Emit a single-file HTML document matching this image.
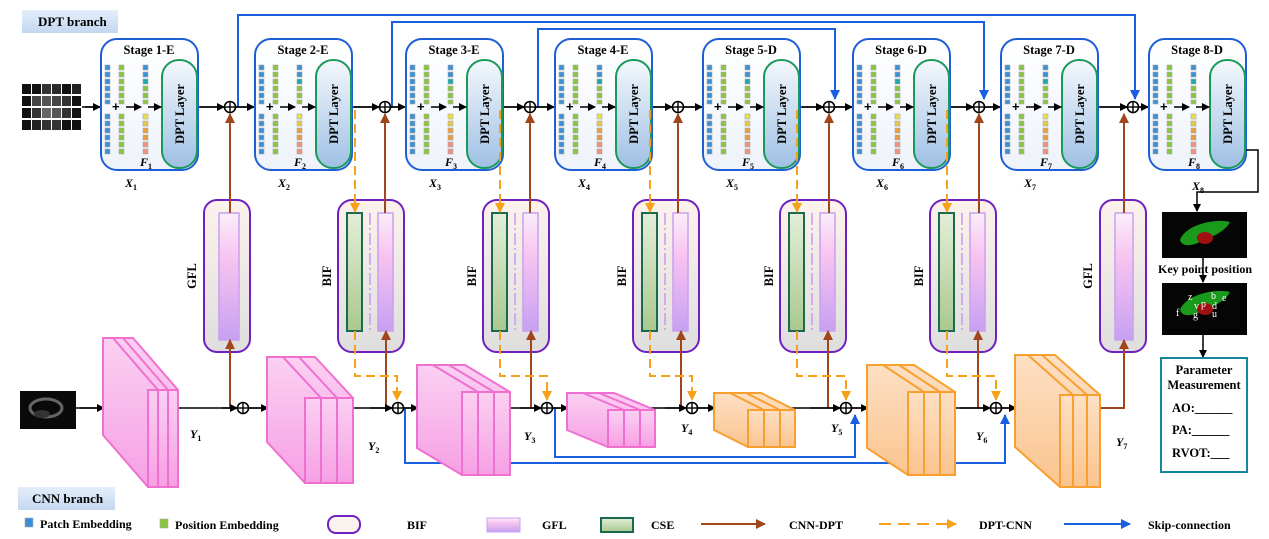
<!DOCTYPE html>
<html><head><meta charset="utf-8"><style>
html,body{margin:0;padding:0;background:#fff;}
svg{display:block;font-family:"Liberation Serif",serif;font-weight:bold;}
</style></head><body>
<svg width="1269" height="539" viewBox="0 0 1269 539" xmlns="http://www.w3.org/2000/svg">
<defs>
<marker id="ak" markerWidth="8" markerHeight="8" refX="7" refY="4" orient="auto" markerUnits="userSpaceOnUse"><path d="M0,0 L8,4 L0,8 z" fill="#000"/></marker>
<marker id="ab" markerWidth="10" markerHeight="10" refX="9" refY="5" orient="auto" markerUnits="userSpaceOnUse"><path d="M0,0 L10,5 L0,10 z" fill="#a0461a"/></marker>
<marker id="ao" markerWidth="10" markerHeight="10" refX="9" refY="5" orient="auto" markerUnits="userSpaceOnUse"><path d="M0,0 L10,5 L0,10 z" fill="#f7a01a"/></marker>
<marker id="al" markerWidth="10" markerHeight="10" refX="9" refY="5" orient="auto" markerUnits="userSpaceOnUse"><path d="M0,0 L10,5 L0,10 z" fill="#1a5fe0"/></marker>
<linearGradient id="gpill" x1="0" y1="0" x2="0" y2="1"><stop offset="0" stop-color="#f4f8fc"/><stop offset="1" stop-color="#9fc0e4"/></linearGradient>
<linearGradient id="gbox" x1="0" y1="0" x2="0" y2="1"><stop offset="0" stop-color="#fff"/><stop offset="1" stop-color="#eef3fa"/></linearGradient>
<linearGradient id="gbif" x1="0" y1="0" x2="0" y2="1"><stop offset="0" stop-color="#fdf2ec"/><stop offset="1" stop-color="#dedede"/></linearGradient>
<linearGradient id="ggfl" x1="0" y1="0" x2="0" y2="1"><stop offset="0" stop-color="#fbeefb"/><stop offset="0.35" stop-color="#f8c4f0"/><stop offset="1" stop-color="#c7a0f2"/></linearGradient>
<linearGradient id="gcse" x1="0" y1="0" x2="0" y2="1"><stop offset="0" stop-color="#e4eed8"/><stop offset="1" stop-color="#a9c88e"/></linearGradient>
<linearGradient id="gpink" x1="0" y1="0" x2="0" y2="1"><stop offset="0" stop-color="#fbd0f2"/><stop offset="1" stop-color="#f6a0e4"/></linearGradient>
<linearGradient id="gorg" x1="0" y1="0" x2="0" y2="1"><stop offset="0" stop-color="#fde0c4"/><stop offset="1" stop-color="#fbc48e"/></linearGradient>
<linearGradient id="gtag" x1="0" y1="0" x2="0" y2="1"><stop offset="0" stop-color="#e4eefa"/><stop offset="1" stop-color="#c4d8f0"/></linearGradient>
<symbol id="stage" width="100" height="136" overflow="visible">
<rect x="1" y="1" width="97" height="131" rx="16" fill="url(#gbox)" stroke="#1f5fd6" stroke-width="2"/>
<rect x="62" y="22" width="35" height="108" rx="17" fill="url(#gpill)" stroke="#1a9a5a" stroke-width="2"/>
<g stroke="#aaa" stroke-width="0.6">
<g fill="#3a8fd6"><rect x="5" y="27" width="5" height="5"/><rect x="5" y="34" width="5" height="5"/><rect x="5" y="41" width="5" height="5"/><rect x="5" y="48" width="5" height="5"/><rect x="5" y="55" width="5" height="5"/><rect x="5" y="62" width="5" height="4"/><rect x="5" y="76" width="5" height="5"/><rect x="5" y="83" width="5" height="5"/><rect x="5" y="90" width="5" height="5"/><rect x="5" y="97" width="5" height="5"/><rect x="5" y="104" width="5" height="5"/><rect x="5" y="111" width="5" height="5"/></g>
<g fill="#8ac53f"><rect x="19" y="27" width="5" height="5"/><rect x="19" y="34" width="5" height="5"/><rect x="19" y="41" width="5" height="5"/><rect x="19" y="48" width="5" height="5"/><rect x="19" y="55" width="5" height="5"/><rect x="19" y="62" width="5" height="4"/><rect x="19" y="76" width="5" height="5"/><rect x="19" y="83" width="5" height="5"/><rect x="19" y="90" width="5" height="5"/><rect x="19" y="97" width="5" height="5"/><rect x="19" y="104" width="5" height="5"/><rect x="19" y="111" width="5" height="5"/></g>
<rect x="43" y="27" width="5" height="5" fill="#3a8fd6"/><rect x="43" y="34" width="5" height="5" fill="#3a8fd6"/><rect x="43" y="41" width="5" height="5" fill="#1aa8a8"/><rect x="43" y="48" width="5" height="5" fill="#8ac53f"/><rect x="43" y="55" width="5" height="5" fill="#8ac53f"/><rect x="43" y="62" width="5" height="4" fill="#8ac53f"/>
<rect x="43" y="76" width="5" height="5" fill="#e6e04a"/><rect x="43" y="83" width="5" height="5" fill="#e6c84a"/><rect x="43" y="90" width="5" height="5" fill="#e8a040"/><rect x="43" y="97" width="5" height="5" fill="#e89a40"/><rect x="43" y="104" width="5" height="5" fill="#f09080"/><rect x="43" y="111" width="5" height="5" fill="#f09080"/>
</g>
<text x="12" y="73" font-size="13" font-family="Liberation Sans">+</text>
<line x1="26" y1="69" x2="41" y2="69" stroke="#000" stroke-width="1.5" marker-end="url(#ak)"/>
<line x1="48" y1="69" x2="61" y2="69" stroke="#000" stroke-width="1.5" marker-end="url(#ak)"/>
</symbol>
<symbol id="oplus" width="14" height="14" overflow="visible">
<circle cx="0" cy="0" r="5.5" fill="#fff" stroke="#000" stroke-width="1.6"/><line x1="-5.5" y1="0" x2="5.5" y2="0" stroke="#000" stroke-width="1.4"/><line x1="0" y1="-5.5" x2="0" y2="5.5" stroke="#000" stroke-width="1.4"/>
</symbol>
</defs>

<rect x="22" y="10" width="96" height="23" fill="url(#gtag)"/>
<text x="38" y="26" font-size="13">DPT branch</text>
<rect x="18" y="487" width="97" height="23" fill="url(#gtag)"/>
<text x="32" y="503" font-size="13">CNN branch</text>

<g fill="none" stroke="#1a5fe0" stroke-width="2">
<polyline points="238,107 238,15 1135,15 1135,99" marker-end="url(#al)"/>
<polyline points="392,107 392,22 984,22 984,99" marker-end="url(#al)"/>
<polyline points="538,107 538,29 835,29 835,99" marker-end="url(#al)"/>
</g>

<line x1="82" y1="107" x2="1148" y2="107" stroke="#000" stroke-width="1.5"/>
<g stroke="#000" stroke-width="1.5" marker-end="url(#ak)">
<line x1="85" y1="107" x2="100" y2="107"/>
<line x1="200" y1="107" x2="224" y2="107"/><line x1="236" y1="107" x2="254" y2="107"/>
<line x1="354" y1="107" x2="379" y2="107"/><line x1="391" y1="107" x2="405" y2="107"/>
<line x1="504" y1="107" x2="524" y2="107"/><line x1="536" y1="107" x2="554" y2="107"/>
<line x1="653" y1="107" x2="672" y2="107"/><line x1="684" y1="107" x2="702" y2="107"/>
<line x1="802" y1="107" x2="823" y2="107"/><line x1="835" y1="107" x2="852" y2="107"/>
<line x1="951" y1="107" x2="973" y2="107"/><line x1="985" y1="107" x2="1000" y2="107"/>
<line x1="1100" y1="107" x2="1127" y2="107"/><line x1="1139" y1="107" x2="1148" y2="107"/>
</g>

<g fill="#111">
<rect x="22" y="84" width="9" height="10"/><rect x="32" y="84" width="9" height="10"/><rect x="42" y="84" width="9" height="10" fill="#333"/><rect x="52" y="84" width="9" height="10" fill="#2a2a2a"/><rect x="62" y="84" width="9" height="10"/><rect x="72" y="84" width="9" height="10" fill="#222"/>
<rect x="22" y="96" width="9" height="10"/><rect x="32" y="96" width="9" height="10" fill="#444"/><rect x="42" y="96" width="9" height="10" fill="#555"/><rect x="52" y="96" width="9" height="10" fill="#444"/><rect x="62" y="96" width="9" height="10" fill="#333"/><rect x="72" y="96" width="9" height="10"/>
<rect x="22" y="108" width="9" height="10"/><rect x="32" y="108" width="9" height="10" fill="#333"/><rect x="42" y="108" width="9" height="10" fill="#666"/><rect x="52" y="108" width="9" height="10" fill="#555"/><rect x="62" y="108" width="9" height="10" fill="#333"/><rect x="72" y="108" width="9" height="10"/>
<rect x="22" y="120" width="9" height="10"/><rect x="32" y="120" width="9" height="10" fill="#222"/><rect x="42" y="120" width="9" height="10" fill="#333"/><rect x="52" y="120" width="9" height="10" fill="#333"/><rect x="62" y="120" width="9" height="10"/><rect x="72" y="120" width="9" height="10"/>
</g>

<use href="#stage" x="100" y="38"/><use href="#stage" x="254" y="38"/><use href="#stage" x="405" y="38"/><use href="#stage" x="554" y="38"/>
<use href="#stage" x="702" y="38"/><use href="#stage" x="852" y="38"/><use href="#stage" x="1000" y="38"/><use href="#stage" x="1148" y="38"/>
<g font-size="12.5" text-anchor="middle">
<text x="149" y="54">Stage 1-E</text><text x="303" y="54">Stage 2-E</text><text x="454" y="54">Stage 3-E</text><text x="603" y="54">Stage 4-E</text>
<text x="751" y="54">Stage 5-D</text><text x="901" y="54">Stage 6-D</text><text x="1049" y="54">Stage 7-D</text><text x="1197" y="54">Stage 8-D</text>
</g>
<g font-size="12.5" text-anchor="middle">
<text transform="translate(184,114) rotate(-90)">DPT  Layer</text><text transform="translate(338,114) rotate(-90)">DPT  Layer</text>
<text transform="translate(489,114) rotate(-90)">DPT  Layer</text><text transform="translate(638,114) rotate(-90)">DPT  Layer</text>
<text transform="translate(786,114) rotate(-90)">DPT  Layer</text><text transform="translate(936,114) rotate(-90)">DPT  Layer</text>
<text transform="translate(1084,114) rotate(-90)">DPT  Layer</text><text transform="translate(1232,114) rotate(-90)">DPT  Layer</text>
</g>
<g font-size="12" font-style="italic">
<text x="140" y="166">F<tspan font-size="8" dy="3" font-style="normal">1</tspan></text><text x="294" y="166">F<tspan font-size="8" dy="3" font-style="normal">2</tspan></text>
<text x="445" y="166">F<tspan font-size="8" dy="3" font-style="normal">3</tspan></text><text x="594" y="166">F<tspan font-size="8" dy="3" font-style="normal">4</tspan></text>
<text x="742" y="166">F<tspan font-size="8" dy="3" font-style="normal">5</tspan></text><text x="892" y="166">F<tspan font-size="8" dy="3" font-style="normal">6</tspan></text>
<text x="1040" y="166">F<tspan font-size="8" dy="3" font-style="normal">7</tspan></text><text x="1188" y="166">F<tspan font-size="8" dy="3" font-style="normal">8</tspan></text>
<text x="125" y="187">X<tspan font-size="8" dy="3" font-style="normal">1</tspan></text><text x="278" y="187">X<tspan font-size="8" dy="3" font-style="normal">2</tspan></text>
<text x="429" y="187">X<tspan font-size="8" dy="3" font-style="normal">3</tspan></text><text x="578" y="187">X<tspan font-size="8" dy="3" font-style="normal">4</tspan></text>
<text x="726" y="187">X<tspan font-size="8" dy="3" font-style="normal">5</tspan></text><text x="876" y="187">X<tspan font-size="8" dy="3" font-style="normal">6</tspan></text>
<text x="1024" y="187">X<tspan font-size="8" dy="3" font-style="normal">7</tspan></text><text x="1192" y="190">X<tspan font-size="8" dy="3" font-style="normal">8</tspan></text>
</g>

<g>
<rect x="204" y="200" width="46" height="152" rx="13" fill="url(#gbif)" stroke="#7020c0" stroke-width="2"/>
<rect x="219" y="213" width="20" height="127" fill="url(#ggfl)" stroke="#c8a0f0" stroke-width="1.5"/>
<rect x="1100" y="200" width="46" height="152" rx="13" fill="url(#gbif)" stroke="#7020c0" stroke-width="2"/>
<rect x="1115" y="213" width="18" height="127" fill="url(#ggfl)" stroke="#c8a0f0" stroke-width="1.5"/>
</g>
<g>
<rect x="338" y="200" width="66" height="152" rx="14" fill="url(#gbif)" stroke="#7020c0" stroke-width="2"/>
<rect x="347" y="213" width="15" height="118" fill="url(#gcse)" stroke="#1a6a50" stroke-width="2"/>
<rect x="378" y="213" width="15" height="118" fill="url(#ggfl)" stroke="#c8a0f0" stroke-width="1.5"/>
<line x1="370" y1="213" x2="370" y2="331" stroke="#c89af0" stroke-width="1.5" stroke-dasharray="12,3,2,3"/>
<rect x="483" y="200" width="66" height="152" rx="14" fill="url(#gbif)" stroke="#7020c0" stroke-width="2"/>
<rect x="492" y="213" width="15" height="118" fill="url(#gcse)" stroke="#1a6a50" stroke-width="2"/>
<rect x="523" y="213" width="15" height="118" fill="url(#ggfl)" stroke="#c8a0f0" stroke-width="1.5"/>
<line x1="515" y1="213" x2="515" y2="331" stroke="#c89af0" stroke-width="1.5" stroke-dasharray="12,3,2,3"/>
<rect x="633" y="200" width="66" height="152" rx="14" fill="url(#gbif)" stroke="#7020c0" stroke-width="2"/>
<rect x="642" y="213" width="15" height="118" fill="url(#gcse)" stroke="#1a6a50" stroke-width="2"/>
<rect x="673" y="213" width="15" height="118" fill="url(#ggfl)" stroke="#c8a0f0" stroke-width="1.5"/>
<line x1="665" y1="213" x2="665" y2="331" stroke="#c89af0" stroke-width="1.5" stroke-dasharray="12,3,2,3"/>
<rect x="780" y="200" width="66" height="152" rx="14" fill="url(#gbif)" stroke="#7020c0" stroke-width="2"/>
<rect x="789" y="213" width="15" height="118" fill="url(#gcse)" stroke="#1a6a50" stroke-width="2"/>
<rect x="820" y="213" width="15" height="118" fill="url(#ggfl)" stroke="#c8a0f0" stroke-width="1.5"/>
<line x1="812" y1="213" x2="812" y2="331" stroke="#c89af0" stroke-width="1.5" stroke-dasharray="12,3,2,3"/>
<rect x="930" y="200" width="66" height="152" rx="14" fill="url(#gbif)" stroke="#7020c0" stroke-width="2"/>
<rect x="939" y="213" width="15" height="118" fill="url(#gcse)" stroke="#1a6a50" stroke-width="2"/>
<rect x="970" y="213" width="15" height="118" fill="url(#ggfl)" stroke="#c8a0f0" stroke-width="1.5"/>
<line x1="962" y1="213" x2="962" y2="331" stroke="#c89af0" stroke-width="1.5" stroke-dasharray="12,3,2,3"/>
</g>
<g font-size="12.5" text-anchor="middle">
<text transform="translate(196,276) rotate(-90)">GFL</text>
<text transform="translate(331,276) rotate(-90)">BIF</text><text transform="translate(476,276) rotate(-90)">BIF</text>
<text transform="translate(626,276) rotate(-90)">BIF</text><text transform="translate(773,276) rotate(-90)">BIF</text>
<text transform="translate(923,276) rotate(-90)">BIF</text><text transform="translate(1092,276) rotate(-90)">GFL</text>
</g>

<g stroke="#a0461a" stroke-width="2" fill="none">
<line x1="230" y1="213" x2="230" y2="114" marker-end="url(#ab)"/><line x1="230" y1="408" x2="230" y2="340" marker-end="url(#ab)"/>
<line x1="385" y1="213" x2="385" y2="114" marker-end="url(#ab)"/><line x1="386" y1="408" x2="386" y2="331" marker-end="url(#ab)"/>
<line x1="530" y1="213" x2="530" y2="114" marker-end="url(#ab)"/><line x1="531" y1="408" x2="531" y2="331" marker-end="url(#ab)"/>
<line x1="678" y1="213" x2="678" y2="114" marker-end="url(#ab)"/><line x1="681" y1="408" x2="681" y2="331" marker-end="url(#ab)"/>
<line x1="829" y1="213" x2="829" y2="114" marker-end="url(#ab)"/><line x1="828" y1="408" x2="828" y2="331" marker-end="url(#ab)"/>
<line x1="979" y1="213" x2="979" y2="114" marker-end="url(#ab)"/><line x1="978" y1="408" x2="978" y2="331" marker-end="url(#ab)"/>
<line x1="1124" y1="213" x2="1124" y2="114" marker-end="url(#ab)"/>
<polyline points="1100,408 1124,408 1124,340" marker-end="url(#ab)"/>
</g>

<g stroke="#f7a01a" stroke-width="2" fill="none" stroke-dasharray="9,5">
<line x1="355" y1="110" x2="355" y2="212" marker-end="url(#ao)"/><polyline points="355,331 355,376 397,376 397,400" marker-end="url(#ao)"/>
<line x1="500" y1="110" x2="500" y2="212" marker-end="url(#ao)"/><polyline points="500,331 500,376 547,376 547,400" marker-end="url(#ao)"/>
<line x1="650" y1="110" x2="650" y2="212" marker-end="url(#ao)"/><polyline points="650,331 650,376 692,376 692,400" marker-end="url(#ao)"/>
<line x1="797" y1="110" x2="797" y2="212" marker-end="url(#ao)"/><polyline points="797,331 797,376 846,376 846,400" marker-end="url(#ao)"/>
<line x1="947" y1="110" x2="947" y2="212" marker-end="url(#ao)"/><polyline points="947,331 947,376 996,376 996,400" marker-end="url(#ao)"/>
</g>

<g fill="none" stroke="#1a5fe0" stroke-width="2">
<polyline points="405,408 405,463 1005,463 1005,415" marker-end="url(#al)"/>
<polyline points="555,408 555,457 855,457 855,415" marker-end="url(#al)"/>
</g>

<line x1="75" y1="408" x2="1015" y2="408" stroke="#000" stroke-width="1.5"/>
<g stroke="#000" stroke-width="1.5" marker-end="url(#ak)">
<line x1="80" y1="408" x2="104" y2="408"/><line x1="222" y1="408" x2="237" y2="408"/><line x1="249" y1="408" x2="268" y2="408"/>
<line x1="370" y1="408" x2="392" y2="408"/><line x1="404" y1="408" x2="418" y2="408"/>
<line x1="520" y1="408" x2="541" y2="408"/><line x1="553" y1="408" x2="568" y2="408"/>
<line x1="665" y1="408" x2="686" y2="408"/><line x1="698" y1="408" x2="715" y2="408"/>
<line x1="810" y1="408" x2="840" y2="408"/><line x1="852" y1="408" x2="868" y2="408"/>
<line x1="960" y1="408" x2="990" y2="408"/><line x1="1002" y1="408" x2="1016" y2="408"/>
</g>

<rect x="20" y="391" width="56" height="38" fill="#0a0a0a"/>
<ellipse cx="46" cy="408" rx="16" ry="9" fill="none" stroke="#666" stroke-width="3"/>
<ellipse cx="42" cy="414" rx="8" ry="4" fill="#333"/>

<g stroke="#f070d0" stroke-width="2" fill="url(#gpink)">
<polygon points="103,338 133,338 178,390 178,487 148,487 103,435"/>
<rect x="148" y="390" width="30" height="97"/><line x1="158" y1="390" x2="158" y2="487"/><line x1="168" y1="390" x2="168" y2="487"/>
<line x1="113" y1="338" x2="158" y2="390"/><line x1="123" y1="338" x2="168" y2="390"/>
<polygon points="267,357 315,357 353,398 353,483 305,483 267,442"/>
<rect x="305" y="398" width="48" height="85"/><line x1="321" y1="398" x2="321" y2="483"/><line x1="337" y1="398" x2="337" y2="483"/>
<line x1="283" y1="357" x2="321" y2="398"/><line x1="299" y1="357" x2="337" y2="398"/>
<polygon points="417,365 465,365 510,392 510,475 462,475 417,448"/>
<rect x="462" y="392" width="48" height="83"/><line x1="478" y1="392" x2="478" y2="475"/><line x1="494" y1="392" x2="494" y2="475"/>
<line x1="433" y1="365" x2="478" y2="392"/><line x1="449" y1="365" x2="494" y2="392"/>
<polygon points="567,393 614,393 655,410 655,447 608,447 567,430"/>
<rect x="608" y="410" width="47" height="37"/><line x1="624" y1="410" x2="624" y2="447"/><line x1="640" y1="410" x2="640" y2="447"/>
<line x1="583" y1="393" x2="624" y2="410"/><line x1="599" y1="393" x2="640" y2="410"/>
</g>
<g stroke="#f7a030" stroke-width="2" fill="url(#gorg)">
<polygon points="714,393 761,393 795,410 795,447 748,447 714,430"/>
<rect x="748" y="410" width="47" height="37"/><line x1="764" y1="410" x2="764" y2="447"/><line x1="780" y1="410" x2="780" y2="447"/>
<line x1="730" y1="393" x2="764" y2="410"/><line x1="746" y1="393" x2="780" y2="410"/>
<polygon points="867,365 914,365 955,392 955,475 908,475 867,448"/>
<rect x="908" y="392" width="47" height="83"/><line x1="924" y1="392" x2="924" y2="475"/><line x1="940" y1="392" x2="940" y2="475"/>
<line x1="883" y1="365" x2="924" y2="392"/><line x1="899" y1="365" x2="940" y2="392"/>
<polygon points="1015,355 1055,355 1100,395 1100,487 1060,487 1015,447"/>
<rect x="1060" y="395" width="40" height="92"/><line x1="1073" y1="395" x2="1073" y2="487"/><line x1="1087" y1="395" x2="1087" y2="487"/>
<line x1="1028" y1="355" x2="1073" y2="395"/><line x1="1042" y1="355" x2="1087" y2="395"/>
</g>
<g font-size="12" font-style="italic">
<text x="190" y="438">Y<tspan font-size="8" dy="3" font-style="normal">1</tspan></text>
<text x="368" y="450">Y<tspan font-size="8" dy="3" font-style="normal">2</tspan></text>
<text x="524" y="440">Y<tspan font-size="8" dy="3" font-style="normal">3</tspan></text>
<text x="681" y="432">Y<tspan font-size="8" dy="3" font-style="normal">4</tspan></text>
<text x="831" y="432">Y<tspan font-size="8" dy="3" font-style="normal">5</tspan></text>
<text x="976" y="440">Y<tspan font-size="8" dy="3" font-style="normal">6</tspan></text>
<text x="1116" y="446">Y<tspan font-size="8" dy="3" font-style="normal">7</tspan></text>
</g>

<use href="#oplus" x="230" y="107"/><use href="#oplus" x="385" y="107"/><use href="#oplus" x="530" y="107"/><use href="#oplus" x="678" y="107"/>
<use href="#oplus" x="829" y="107"/><use href="#oplus" x="979" y="107"/><use href="#oplus" x="1133" y="107"/>
<use href="#oplus" x="243" y="408"/><use href="#oplus" x="398" y="408"/><use href="#oplus" x="547" y="408"/><use href="#oplus" x="692" y="408"/>
<use href="#oplus" x="846" y="408"/><use href="#oplus" x="996" y="408"/>

<polyline points="1246,150 1258,150 1258,192 1197,192 1197,211" fill="none" stroke="#000" stroke-width="1.5" marker-end="url(#ak)"/>
<rect x="1162" y="212" width="85" height="46" fill="#050505"/>
<path d="M1180,240 C1185,225 1215,218 1230,222 C1225,232 1210,238 1195,244 C1188,246 1182,246 1180,240z" fill="#1a9a1a"/>
<ellipse cx="1205" cy="238" rx="8" ry="6" fill="#a01010"/>
<line x1="1203" y1="258" x2="1203" y2="282" stroke="#000" stroke-width="1.5" marker-end="url(#ak)"/>
<text x="1158" y="273" font-size="12">Key point position</text>
<rect x="1162" y="283" width="85" height="52" fill="#050505"/>
<path d="M1180,310 C1185,295 1215,288 1230,292 C1225,302 1210,308 1195,314 C1188,316 1182,316 1180,310z" fill="#1a9a1a"/>
<ellipse cx="1205" cy="309" rx="8" ry="6" fill="#a01010"/>
<g fill="#fff" font-size="10" font-weight="normal">
<text x="1176" y="316">f</text><text x="1188" y="300">z</text><text x="1194" y="309">v</text><text x="1201" y="307">p</text>
<text x="1193" y="318">g</text><text x="1211" y="299">b</text><text x="1212" y="309">d</text><text x="1222" y="301">e</text><text x="1212" y="317">u</text>
</g>
<line x1="1203" y1="335" x2="1203" y2="357" stroke="#000" stroke-width="1.5" marker-end="url(#ak)"/>
<rect x="1161" y="358" width="86" height="114" fill="#fff" stroke="#16869a" stroke-width="2"/>
<g font-size="12.5">
<text x="1204" y="374" text-anchor="middle">Parameter</text>
<text x="1204" y="389" text-anchor="middle">Measurement</text>
<text x="1172" y="412">AO:______</text>
<text x="1172" y="434">PA:______</text>
<text x="1172" y="457">RVOT:___</text>
</g>

<!-- legend -->
<rect x="25" y="518" width="8" height="9" fill="#3a8fd6" stroke="#aaa" stroke-width="0.6"/>
<text x="40" y="528" font-size="12">Patch Embedding</text>
<rect x="160" y="519" width="8" height="9" fill="#8ac53f" stroke="#aaa" stroke-width="0.6"/>
<text x="175" y="529" font-size="12">Position Embedding</text>
<rect x="328" y="516" width="32" height="17" rx="8" fill="#fbf3ef" stroke="#7020c0" stroke-width="2"/>
<text x="407" y="529" font-size="12">BIF</text>
<rect x="487" y="518" width="33" height="14" fill="url(#ggfl)" stroke="#c8a0f0"/>
<text x="542" y="529" font-size="12">GFL</text>
<rect x="601" y="518" width="32" height="14" fill="url(#gcse)" stroke="#1a6a50" stroke-width="2"/>
<text x="651" y="529" font-size="12">CSE</text>
<line x1="701" y1="524" x2="765" y2="524" stroke="#a0461a" stroke-width="2" marker-end="url(#ab)"/>
<text x="789" y="529" font-size="12">CNN-DPT</text>
<line x1="879" y1="524" x2="956" y2="524" stroke="#f7a01a" stroke-width="2" stroke-dasharray="12,7" marker-end="url(#ao)"/>
<text x="979" y="529" font-size="12">DPT-CNN</text>
<line x1="1064" y1="524" x2="1130" y2="524" stroke="#1a5fe0" stroke-width="2" marker-end="url(#al)"/>
<text x="1148" y="529" font-size="12">Skip-connection</text>
</svg>
</body></html>
